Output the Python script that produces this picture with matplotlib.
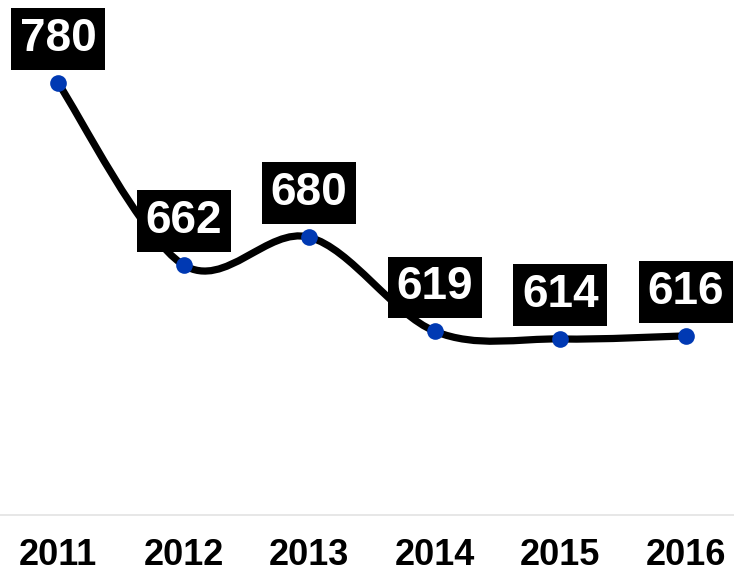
import matplotlib
matplotlib.use("Agg")
import matplotlib.pyplot as plt
from matplotlib.path import Path
from matplotlib.patches import PathPatch

years = ["2011", "2012", "2013", "2014", "2015", "2016"]
values = [780, 662, 680, 619, 614, 616]

W, H = 734, 573
fig = plt.figure(figsize=(W / 100, H / 100), dpi=100)
ax = fig.add_axes([0, 0, 1, 1])
ax.set_xlim(-58 / 125.6, (W - 58) / 125.6)
ax.set_ylim(780 - (H - 83) / 1.542, 780 + 83 / 1.542)
ax.axis("off")

xs = list(range(len(values)))
ys = values
n = len(xs)

# Catmull-Rom (cardinal, tension 0) spline with duplicated endpoints
def P(i):
    i = max(0, min(n - 1, i))
    return (xs[i], ys[i])

verts = [P(0)]
codes = [Path.MOVETO]
for i in range(n - 1):
    p0, p1, p2, p3 = P(i - 1), P(i), P(i + 1), P(i + 2)
    c1 = (p1[0] + (p2[0] - p0[0]) / 6, p1[1] + (p2[1] - p0[1]) / 6)
    c2 = (p2[0] - (p3[0] - p1[0]) / 6, p2[1] - (p3[1] - p1[1]) / 6)
    verts += [c1, c2, p2]
    codes += [Path.CURVE4] * 3
path = Path(verts, codes)
ax.add_patch(PathPatch(path, facecolor="none", edgecolor="black", lw=5.2,
                       capstyle="round", joinstyle="round", zorder=2))

ax.plot(xs, ys, "o", color="#0039b3", ms=12, mec="none", zorder=3)

# axis line
ax.axhline(500, color="#e3e3e3", lw=1.2, zorder=1)

for x, v in zip(xs, values):
    ax.annotate(str(v), (x, v), xytext=(0, 44 * 0.72), textcoords="offset points",
                ha="center", va="center", color="white", fontsize=33,
                fontweight="bold", family="Liberation Sans", zorder=4,
                bbox=dict(boxstyle="square,pad=0.19", fc="black", ec="none"))

for x, y in zip(xs, years):
    ax.text(x, 780 - (556 - 83) / 1.542, y, ha="center", va="center",
            fontsize=26, fontweight="bold", family="Liberation Sans", color="black")

fig.savefig("out.png", dpi=100)
